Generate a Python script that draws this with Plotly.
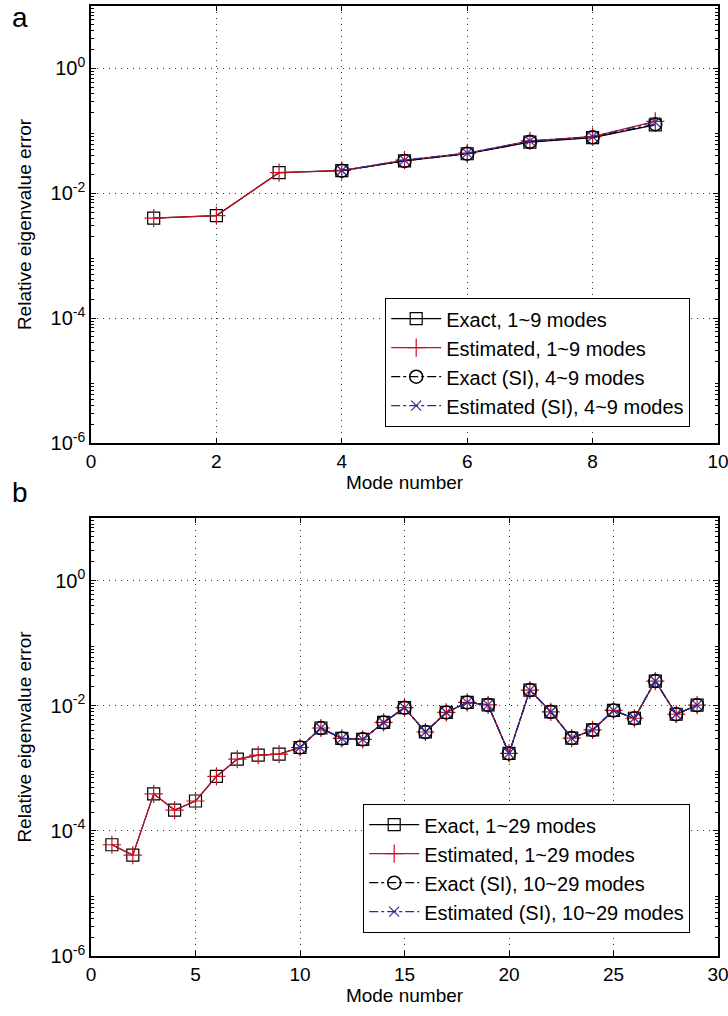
import plotly.graph_objects as go

# ---------- data ----------
modes_a = [1, 2, 3, 4, 5, 6, 7, 8, 9]
exact_a = [0.0040, 0.0044, 0.0214, 0.0230, 0.0330, 0.0430, 0.0660, 0.0780, 0.1250]
est_a = [0.0040, 0.0044, 0.0214, 0.0232, 0.0340, 0.0440, 0.0690, 0.0810, 0.1420]
modes_a_si = [4, 5, 6, 7, 8, 9]
exact_a_si = [0.0230, 0.0330, 0.0430, 0.0670, 0.0790, 0.1280]
est_a_si = [0.0232, 0.0340, 0.0440, 0.0690, 0.0810, 0.1380]

modes_b = list(range(1, 30))
exact_b = [6.0e-5, 4.1e-5, 3.9e-4, 2.15e-4, 3.0e-4, 7.4e-4, 1.4e-3, 1.62e-3, 1.68e-3,
           2.15e-3, 4.4e-3, 3.0e-3, 2.9e-3, 5.4e-3, 9.3e-3, 3.8e-3, 7.8e-3, 1.13e-2,
           1.03e-2, 1.73e-3, 1.78e-2, 8.0e-3, 3.04e-3, 4.1e-3, 8.4e-3, 6.3e-3, 2.48e-2,
           7.3e-3, 1.02e-2]
est_b = [6.0e-5, 4.1e-5, 3.9e-4, 2.15e-4, 3.0e-4, 7.4e-4, 1.4e-3, 1.62e-3, 1.68e-3,
         2.15e-3, 4.4e-3, 3.0e-3, 2.9e-3, 5.4e-3, 9.3e-3, 3.8e-3, 7.8e-3, 1.13e-2,
         1.03e-2, 1.73e-3, 1.78e-2, 8.0e-3, 3.04e-3, 4.1e-3, 8.4e-3, 6.3e-3, 2.48e-2,
         7.3e-3, 1.02e-2]
modes_b_si = list(range(10, 30))
exact_b_si = exact_b[9:]
est_b_si = est_b[9:]

ytick_vals = [1e-6, 1e-4, 1e-2, 1e0]
ytick_text = ["10<sup>-6</sup>", "10<sup>-4</sup>", "10<sup>-2</sup>", "10<sup>0</sup>"]
xticks_a = [0, 2, 4, 6, 8, 10]
xticks_b = [0, 5, 10, 15, 20, 25, 30]

names_a = ["Exact, 1~9 modes", "Estimated, 1~9 modes",
           "Exact (SI), 4~9 modes", "Estimated (SI), 4~9 modes"]
names_b = ["Exact, 1~29 modes", "Estimated, 1~29 modes",
           "Exact (SI), 10~29 modes", "Estimated (SI), 10~29 modes"]

RED = "#c8101e"
BLUE = "#2b2b9e"
FONT = "Liberation Sans, Arial, sans-serif"
FS = 19

fig = go.Figure()

def add_set(x_full, x_si, ys_list, names, xaxis, yaxis, legend):
    e, es, s, ss = ys_list
    fig.add_trace(go.Scatter(x=x_full, y=e, name=names[0], mode="lines+markers",
                             line=dict(color="black", width=1.2),
                             marker=dict(symbol="square-open", size=12, color="black",
                                         line=dict(width=1.2)),
                             xaxis=xaxis, yaxis=yaxis, legend=legend))
    fig.add_trace(go.Scatter(x=x_full, y=es, name=names[1], mode="lines+markers",
                             line=dict(color=RED, width=1.2),
                             marker=dict(symbol="cross-thin-open", size=13, color=RED,
                                         line=dict(width=1.2, color=RED)),
                             xaxis=xaxis, yaxis=yaxis, legend=legend))
    fig.add_trace(go.Scatter(x=x_si, y=s, name=names[2], mode="lines+markers",
                             line=dict(color="black", width=1.2, dash="dashdot"),
                             marker=dict(symbol="circle-open", size=13, color="black",
                                         line=dict(width=1.5)),
                             xaxis=xaxis, yaxis=yaxis, legend=legend))
    fig.add_trace(go.Scatter(x=x_si, y=ss, name=names[3], mode="lines+markers",
                             line=dict(color=BLUE, width=1.2, dash="dashdot"),
                             marker=dict(symbol="x-thin-open", size=10, color=BLUE,
                                         line=dict(width=1.2, color=BLUE)),
                             xaxis=xaxis, yaxis=yaxis, legend=legend))

add_set(modes_a, modes_a_si, [exact_a, est_a, exact_a_si, est_a_si],
        names_a, "x", "y", "legend")
add_set(modes_b, modes_b_si, [exact_b, est_b, exact_b_si, est_b_si],
        names_b, "x2", "y2", "legend2")

W, H = 728, 1016
xdom = [91 / W, 718 / W]
ydom_a = [1 - 443 / H, 1 - 6 / H]
ydom_b = [1 - 956 / H, 1 - 518 / H]

minor_vals = [m * 10 ** d for d in range(-6, 1) for m in range(2, 10)]

GRID = dict(showgrid=True, gridcolor="#333333", griddash="1px,5px", gridwidth=1)

common_x = dict(showline=True, linecolor="black", linewidth=1.5, mirror="ticks",
                ticks="inside", ticklen=5, tickcolor="black", ticklabeloverflow="allow",
                automargin=False,
                zeroline=False, tickfont=dict(size=FS, color="black", family=FONT),
                title=dict(text="Mode number", font=dict(size=FS, color="black", family=FONT),
                           standoff=4), **GRID)
common_y = dict(type="log", range=[-6, 1], tickvals=ytick_vals, ticktext=ytick_text,
                showline=True, linecolor="black", linewidth=1.5, mirror="ticks",
                ticks="inside", ticklen=5, tickcolor="black", ticklabeloverflow="allow",
                automargin=False,
                zeroline=False, tickfont=dict(size=20, color="black", family=FONT),
                minor=dict(tickvals=minor_vals, ticks="inside", ticklen=3,
                           tickcolor="black", showgrid=False),
                title=dict(text="Relative eigenvalue error",
                           font=dict(size=FS, color="black", family=FONT), standoff=14),
                **GRID)

legend_common = dict(bgcolor="white", bordercolor="black", borderwidth=1.2,
                     font=dict(size=20, color="black", family=FONT),
                     xanchor="right", yanchor="top", tracegroupgap=0, itemwidth=50)

fig.update_layout(
    width=W, height=H,
    margin=dict(l=0, r=0, t=0, b=0),
    paper_bgcolor="white", plot_bgcolor="white",
    font=dict(family=FONT, color="black"),
    xaxis=dict(domain=xdom, range=[0, 10], tickvals=xticks_a, anchor="y", **common_x),
    yaxis=dict(domain=ydom_a, anchor="x", **common_y),
    xaxis2=dict(domain=xdom, range=[0, 30], tickvals=xticks_b, anchor="y2", **common_x),
    yaxis2=dict(domain=ydom_b, anchor="x2", **common_y),
    legend=dict(x=690 / W, y=1 - 298 / H, **legend_common),
    legend2=dict(x=690 / W, y=1 - 804 / H, **legend_common),
    showlegend=True,
    annotations=[
        dict(text="a", x=10 / W, y=1 - 18 / H, xref="paper", yref="paper",
             xanchor="left", yanchor="middle", showarrow=False,
             font=dict(size=28, color="black", family=FONT)),
        dict(text="b", x=10 / W, y=1 - 492 / H, xref="paper", yref="paper",
             xanchor="left", yanchor="middle", showarrow=False,
             font=dict(size=28, color="black", family=FONT)),
    ],
)

fig.write_html("out.html")
